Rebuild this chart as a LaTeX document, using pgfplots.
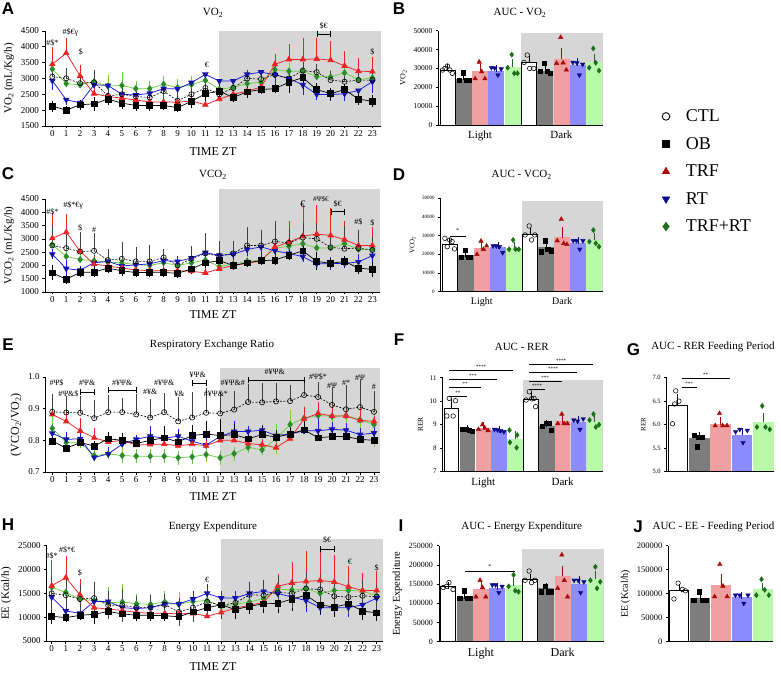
\documentclass[border=0pt]{standalone}
\usepackage{pgfplots}
\usepackage{pgfplotstable}
\pgfplotsset{compat=1.18}
\usepackage{fontspec}
\setmainfont{Liberation Serif}
\newfontfamily\lettfont{Liberation Sans}

\definecolor{bg}{RGB}{214,214,214}
\definecolor{trfL}{RGB}{235,35,35}
\definecolor{rtL}{RGB}{25,25,235}
\definecolor{rtM}{RGB}{20,20,170}
\definecolor{trtL}{RGB}{105,210,60}
\definecolor{trtM}{RGB}{40,140,40}
\definecolor{trfB}{RGB}{240,160,160}
\definecolor{rtB}{RGB}{140,140,255}
\definecolor{trtB}{RGB}{185,250,170}
\definecolor{obB}{RGB}{125,125,125}
\definecolor{trfP}{RGB}{170,10,10}
\definecolor{rtP}{RGB}{10,10,140}
\definecolor{trtP}{RGB}{30,110,30}

\pgfplotstableread{
x ctl ctle ob obe trf trfe rt rte trt trte
0 3058 200 2130 100 3450 470 2930 220 3300 150
1 3005 250 2000 60 3800 400 2330 80 2840 50
2 2850 150 2170 80 3080 270 2230 60 2800 60
3 2880 300 2200 150 2520 150 2800 120 2900 250
4 2450 250 2350 130 2430 80 2780 100 2760 280
5 2500 250 2220 120 2380 70 2500 80 2780 350
6 2430 200 2150 90 2320 60 2480 60 2680 170
7 2400 200 2150 90 2260 60 2530 80 2680 170
8 2600 150 2150 80 2260 200 2680 60 2820 200
9 2300 200 2080 80 2250 60 2670 60 2710 200
10 2500 200 2280 150 2290 60 2870 80 2810 200
11 2700 250 2520 150 2170 60 3130 60 2940 150
12 2500 200 2600 150 2350 60 2920 60 2660 100
13 2700 200 2400 80 2500 60 2920 60 2720 120
14 3000 200 2580 120 2600 60 3130 80 2840 150
15 2980 200 2650 80 2730 60 3200 60 2880 150
16 3120 250 2680 80 3450 250 3120 250 3280 150
17 3000 250 2880 250 3600 420 3000 200 3230 200
18 3250 200 3030 300 3600 600 2800 250 3230 200
19 3200 200 2650 120 3620 600 2500 100 3060 150
20 2950 200 2520 120 3580 520 2490 120 3050 150
21 2900 150 2650 100 3400 380 2520 150 3180 150
22 2950 150 2350 120 3230 340 2620 80 2960 80
23 2950 150 2280 120 3220 380 2900 300 3020 150
}\tA

\pgfplotstableread{
x ctl ctle ob obe trf trfe rt rte trt trte
0 2750 650 1720 200 3020 850 2420 100 2780 300
1 2650 600 1480 80 3250 600 1880 250 2340 250
2 2520 650 1740 100 2530 450 1820 80 2220 300
3 2550 600 1750 100 2050 200 2100 200 2180 200
4 2200 350 1900 100 1980 150 2150 100 2120 250
5 2250 550 1800 100 1900 150 1980 100 2100 400
6 2150 450 1730 80 1830 100 2020 100 2030 200
7 2150 550 1740 80 1800 100 2060 100 2000 200
8 2300 250 1740 80 1800 150 2180 100 2100 250
9 2000 200 1700 80 1800 100 2150 100 2000 250
10 2250 400 1870 100 1780 100 2280 150 2100 250
11 2450 700 2100 100 1720 150 2480 150 2200 200
12 2350 500 2180 100 1870 100 2380 150 1960 150
13 2450 400 2000 80 2000 100 2420 150 2050 200
14 2750 600 2100 80 2080 100 2600 150 2150 250
15 2750 500 2180 80 2170 100 2700 300 2200 300
16 2900 700 2200 80 2700 350 2550 150 2650 300
17 2850 450 2380 100 2870 700 2450 150 2720 300
18 3050 450 2550 150 3100 1100 2330 100 2820 400
19 3000 500 2150 250 3180 1000 2060 100 2660 300
20 2680 400 2080 100 3130 930 2070 150 2660 300
21 2630 750 2150 100 2970 600 2080 100 2820 500
22 2650 600 1900 150 2750 500 2130 200 2600 200
23 2580 400 1850 200 2750 600 2370 150 2600 200
}\tC

\pgfplotstableread{
x ctl ctle ob obe trf trfe rt rte trt trte
0 0.890 0.050 0.798 0.015 0.882 0.033 0.822 0.020 0.838 0.040
1 0.888 0.045 0.775 0.010 0.860 0.030 0.803 0.015 0.793 0.010
2 0.887 0.045 0.793 0.010 0.830 0.033 0.805 0.015 0.792 0.010
3 0.870 0.050 0.782 0.010 0.808 0.025 0.746 0.010 0.752 0.010
4 0.889 0.048 0.805 0.015 0.795 0.010 0.757 0.015 0.757 0.010
5 0.889 0.037 0.800 0.015 0.800 0.012 0.788 0.015 0.752 0.015
6 0.882 0.057 0.790 0.010 0.785 0.010 0.803 0.008 0.750 0.015
7 0.872 0.050 0.800 0.015 0.787 0.010 0.813 0.025 0.750 0.015
8 0.889 0.054 0.808 0.030 0.788 0.010 0.807 0.015 0.750 0.015
9 0.860 0.070 0.795 0.025 0.783 0.010 0.813 0.015 0.745 0.015
10 0.872 0.072 0.815 0.025 0.788 0.010 0.797 0.015 0.748 0.015
11 0.887 0.070 0.820 0.035 0.783 0.010 0.785 0.015 0.755 0.015
12 0.885 0.060 0.815 0.045 0.800 0.010 0.812 0.015 0.745 0.015
13 0.897 0.050 0.818 0.025 0.800 0.010 0.828 0.025 0.758 0.015
14 0.921 0.050 0.805 0.020 0.790 0.010 0.828 0.010 0.778 0.010
15 0.920 0.055 0.818 0.020 0.786 0.010 0.832 0.010 0.770 0.010
16 0.923 0.050 0.810 0.015 0.777 0.008 0.815 0.010 0.805 0.040
17 0.924 0.045 0.820 0.025 0.805 0.010 0.820 0.015 0.850 0.040
18 0.943 0.030 0.833 0.020 0.868 0.030 0.830 0.025 0.870 0.030
19 0.937 0.040 0.808 0.015 0.885 0.030 0.830 0.030 0.878 0.030
20 0.912 0.048 0.812 0.015 0.877 0.030 0.835 0.015 0.876 0.030
21 0.898 0.070 0.812 0.015 0.877 0.010 0.832 0.015 0.878 0.040
22 0.905 0.080 0.803 0.010 0.863 0.050 0.818 0.015 0.865 0.050
23 0.890 0.060 0.800 0.010 0.860 0.010 0.823 0.015 0.850 0.065
}\tE

\pgfplotstableread{
x ctl ctle ob obe trf trfe rt rte trt trte
0 15000 3000 10200 1200 16600 5000 14200 2500 16300 2000
1 14600 3000 9900 500 18300 4000 11300 1000 15200 2500
2 13800 2500 10400 500 14700 2800 10800 700 13800 1500
3 14000 3000 10600 1500 12000 1200 13300 1000 13500 1800
4 12500 2500 11200 1000 11700 700 13300 1000 13000 2800
5 12500 3000 10700 1000 11400 700 12000 800 13200 3200
6 12000 2000 10400 800 11000 800 11800 800 12800 1600
7 12000 2200 10400 800 10800 700 12000 800 12700 1600
8 12600 1800 10300 700 10800 700 12800 800 13200 1800
9 11100 2500 10100 700 10700 700 12800 800 12700 2000
10 12000 2500 11100 1200 10800 600 13800 1200 13300 1200
11 13200 2500 12000 1500 10200 700 15000 1500 13500 1000
12 12500 2500 12600 2000 11000 1000 14000 1000 12300 1000
13 13000 1500 11600 1500 11900 1000 14000 1000 12700 1500
14 14700 2000 12300 1200 12500 1000 15000 2000 13200 1500
15 14600 2500 12800 1500 13100 1000 15400 2000 13900 1500
16 15200 3000 12900 1500 16500 2000 15000 2000 15900 2500
17 15000 2500 13800 2000 17200 4000 14200 1500 15700 2500
18 16000 3000 14600 2000 17500 6000 13500 2000 16000 3500
19 15800 2500 12600 1500 17700 6000 12000 1000 15000 2000
20 14400 2500 12100 1500 17400 5200 12000 1500 15600 2000
21 14200 3000 12800 1500 16400 3800 12000 1500 15600 3000
22 14500 3000 11300 1500 15600 3200 12600 1500 15500 2500
23 14300 2000 10900 1200 15600 3700 14000 2500 14500 2000
}\tH

\pgfplotsset{
 base/.style={scale only axis, anchor=south west, axis x line*=bottom, axis y line*=left,
   tick align=outside, major tick length=2.5pt, clip=false, axis on top, scaled y ticks=false,
   /pgf/number format/assume math mode=true, /pgf/number format/1000 sep={},
   /pgf/number format/fixed,
   axis line style={line width=0.7pt}, tick style={black, line width=0.7pt}},
 lineax/.style={base, xtick={0,...,23},
   ticklabel style={font=\fontsize{9}{10}\selectfont},
   xticklabel style={inner sep=1.5pt},
   ylabel style={font=\fontsize{11}{12}\selectfont}},
 barax/.style={base, xmin=-0.56, xmax=9.53, xtick={2,7}, xticklabels={Light,Dark},
   xtick style={draw=none}},
 smallax/.style={base, xmin=-0.52, xmax=4.5, xtick=\empty},
 sCTL/.style={black, line width=0.6pt, dash pattern=on 2pt off 1.5pt, mark=o, mark size=2.6pt,
   mark options={solid, black, fill=white, line width=0.6pt},
   error bars/.cd, y explicit, y dir=#1, error bar style={solid, black!75, line width=0.5pt},
   error mark options={black!75, mark size=2.3pt, line width=0.5pt}},
 sOB/.style={black, line width=0.7pt, mark=square*, mark size=2.9pt, mark options={black},
   error bars/.cd, y explicit, y dir=#1, error bar style={black, line width=0.5pt},
   error mark options={black, mark size=2.3pt, line width=0.5pt}},
 sTRF/.style={trfL, line width=0.75pt, mark=triangle*, mark size=3.1pt, mark options={trfL},
   error bars/.cd, y explicit, y dir=#1, error bar style={trfL, line width=0.5pt},
   error mark options={trfL, mark size=2.3pt, line width=0.5pt}},
 sRT/.style={rtL, line width=0.75pt, mark=triangle*, mark size=3.1pt, mark options={rtM, rotate=180},
   error bars/.cd, y explicit, y dir=#1, error bar style={rtL, line width=0.5pt},
   error mark options={rtL, mark size=2.3pt, line width=0.5pt}},
 sTRT/.style={trtL, line width=0.75pt, mark=diamond*, mark size=3pt, mark options={trtM},
   error bars/.cd, y explicit, y dir=#1, error bar style={trtL, line width=0.5pt},
   error mark options={trtL, mark size=2.3pt, line width=0.5pt}},
 bar/.style n args={3}{ybar, bar width=0.92, bar shift=0pt, fill=#1, draw=#2, line width=0.8pt,
   error bars/.cd, y dir=plus, y explicit, error bar style={#3, line width=0.7pt},
   error mark options={#3, mark size=3.5pt, line width=0.7pt}},
 pC/.style={only marks, mark=o, mark size=2.3pt, mark options={black, fill=white, line width=0.55pt}},
 pO/.style={only marks, mark=square*, mark size=2.1pt, black},
 pT/.style={only marks, mark=triangle*, mark size=2.6pt, trfP},
 pR/.style={only marks, mark=triangle*, mark size=2.6pt, mark options={rotate=180}, rtP},
 pG/.style={only marks, mark=diamond*, mark size=2.6pt, trtP},
}

\newcommand{\ann}{\fontsize{8}{9}\selectfont}

\begin{document}
\begin{tikzpicture}
\path[use as bounding box] (0,0) rectangle (781pt,673pt);

% ---------------- A ----------------
\begin{axis}[lineax, at={(45pt,547pt)}, width=336pt, height=95pt, xmin=-0.525, xmax=23.62,
  ymin=1500, ymax=4500, ytick={1500,2000,...,4500}, ylabel={VO\textsubscript{2} (mL/Kg/h)}]
\fill[bg] (axis cs:12,1500) rectangle (axis cs:23.62,4500);
\addplot[sTRT=plus] table[x=x,y=trt,y error=trte]{\tA};
\addplot[sRT=minus] table[x=x,y=rt,y error=rte]{\tA};
\addplot[sTRF=plus] table[x=x,y=trf,y error=trfe]{\tA};
\addplot[sOB=both] table[x=x,y=ob,y error=obe]{\tA};
\addplot[sCTL=plus] table[x=x,y=ctl,y error=ctle]{\tA};
\node[font=\ann] at (axis cs:0,4130) {\#\$*};
\node[font=\ann] at (axis cs:1.3,4460) {\#\$€γ};
\node[font=\ann] at (axis cs:2.05,3850) {\$};
\node[font=\ann] at (axis cs:11.1,3430) {€};
\node[font=\ann] at (axis cs:19.5,4660) {\$€};
\draw[|-|, line width=0.5pt] (axis cs:19,4395) -- (axis cs:20,4395);
\node[font=\ann] at (axis cs:23,3850) {\$};
\end{axis}

% ---------------- C ----------------
\begin{axis}[lineax, at={(45pt,381pt)}, width=335pt, height=93pt, xmin=-0.525, xmax=23.55,
  ymin=1000, ymax=4500, ytick={1000,1500,...,4500}, ylabel={VCO\textsubscript{2} (mL/Kg/h)}]
\fill[bg] (axis cs:12,1000) rectangle (axis cs:23.55,4875);
\addplot[sTRT=plus] table[x=x,y=trt,y error=trte]{\tC};
\addplot[sRT=both] table[x=x,y=rt,y error=rte]{\tC};
\addplot[sTRF=plus] table[x=x,y=trf,y error=trfe]{\tC};
\addplot[sOB=both] table[x=x,y=ob,y error=obe]{\tC};
\addplot[sCTL=plus] table[x=x,y=ctl,y error=ctle]{\tC};
\node[font=\ann] at (axis cs:0,4025) {\#\$*};
\node[font=\ann] at (axis cs:1.5,4275) {\#\$*€γ};
\node[font=\ann] at (axis cs:2,3400) {\$};
\node[font=\ann] at (axis cs:3,3340) {\#};
\node[font=\fontsize{10}{11}\selectfont] at (axis cs:18,4300) {€};
\node[font=\fontsize{7}{8}\selectfont] at (axis cs:19.3,4500) {\#Ψ\$€};
\node[font=\ann] at (axis cs:20.5,4310) {\$€};
\draw[|-|, line width=0.5pt] (axis cs:20,4025) -- (axis cs:21,4025);
\node[font=\ann] at (axis cs:22,3625) {\#\$};
\node[font=\ann] at (axis cs:23,3590) {\$};
\end{axis}

% ---------------- E ----------------
\begin{axis}[lineax, at={(45.7pt,201pt)}, width=334.3pt, height=95pt, xmin=-0.47, xmax=23.43,
  ymin=0.7, ymax=1.0, ytick={0.7,0.8,0.9,1.0},
  yticklabel style={/pgf/number format/.cd, fixed, fixed zerofill, precision=1},
  ylabel={(VCO\textsubscript{2}/VO\textsubscript{2})}, ylabel style={font=\fontsize{12}{13}\selectfont}]
\fill[bg] (axis cs:12,0.7) rectangle (axis cs:23.43,1.03);
\addplot[sTRT=both] table[x=x,y=trt,y error=trte]{\tE};
\addplot[sRT=plus] table[x=x,y=rt,y error=rte]{\tE};
\addplot[sTRF=plus] table[x=x,y=trf,y error=trfe]{\tE};
\addplot[sOB=plus] table[x=x,y=ob,y error=obe]{\tE};
\addplot[sCTL=plus] table[x=x,y=ctl,y error=ctle]{\tE};
\node[font=\ann] at (axis cs:0.3,0.982) {\#Ψ\$};
\node[font=\ann] at (axis cs:1.15,0.948) {\#Ψ\&\$};
\node[font=\ann] at (axis cs:2.5,0.98) {\#Ψ\&};
\draw[|-|, line width=0.5pt] (axis cs:2,0.953) -- (axis cs:3,0.953);
\node[font=\ann] at (axis cs:5,0.983) {\#¥Ψ\&};
\draw[|-|, line width=0.5pt] (axis cs:4,0.958) -- (axis cs:6,0.958);
\node[font=\ann] at (axis cs:7,0.954) {\#¥\&};
\node[font=\ann] at (axis cs:8,0.98) {\#¥Ψ\&};
\node[font=\ann] at (axis cs:9.1,0.948) {¥\&};
\node[font=\ann] at (axis cs:10.4,1.006) {¥Ψ\&};
\draw[|-|, line width=0.5pt] (axis cs:10,0.98) -- (axis cs:11,0.98);
\node[font=\ann] at (axis cs:11.7,0.948) {\#¥Ψ\&*};
\node[font=\ann] at (axis cs:12.9,0.982) {\#¥Ψ\&\#};
\node[font=\ann] at (axis cs:15.9,1.015) {\#¥Ψ\&};
\draw[|-|, line width=0.5pt] (axis cs:14,0.99) -- (axis cs:18,0.99);
\node[font=\ann] at (axis cs:19,1.001) {\#Ψ\$*};
\node[font=\ann] at (axis cs:20,0.973) {\#Ψ};
\node[font=\ann] at (axis cs:21,0.98) {\#*};
\node[font=\ann] at (axis cs:22,0.996) {\#Ψ};
\node[font=\ann] at (axis cs:23,0.97) {\#};
\end{axis}

% ---------------- H ----------------
\begin{axis}[lineax, at={(46.7pt,32pt)}, width=336.6pt, height=95.3pt, xmin=-0.354, xmax=23.47,
  ymin=5000, ymax=25000, ytick={5000,10000,...,25000}, ylabel={EE (Kcal/h)}]
\fill[bg] (axis cs:12,5000) rectangle (axis cs:23.47,26400);
\addplot[sTRT=both] table[x=x,y=trt,y error=trte]{\tH};
\addplot[sRT=both] table[x=x,y=rt,y error=rte]{\tH};
\addplot[sTRF=plus] table[x=x,y=trf,y error=trfe]{\tH};
\addplot[sOB=both] table[x=x,y=ob,y error=obe]{\tH};
\addplot[sCTL=both] table[x=x,y=ctl,y error=ctle]{\tH};
\node[font=\ann] at (axis cs:0,22800) {\#\$*};
\node[font=\ann] at (axis cs:1.1,24200) {\#\$*€};
\node[font=\ann] at (axis cs:2,19200) {\$};
\node[font=\ann] at (axis cs:11,17800) {€};
\node[font=\ann] at (axis cs:19.5,26300) {\$€};
\draw[|-|, line width=0.5pt] (axis cs:19,24230) -- (axis cs:20,24230);
\node[font=\ann] at (axis cs:21.1,21500) {€};
\node[font=\ann] at (axis cs:23,20400) {\$};
\end{axis}

% ---------------- B ----------------
\begin{axis}[barax, at={(438.3pt,548pt)}, width=164.4pt, height=94.3pt, ymin=0, ymax=50000,
  ytick={0,10000,...,50000}, ylabel={VO\textsubscript{2}},
  yticklabel style={font=\fontsize{7.5}{8}\selectfont}, xticklabel style={font=\fontsize{11}{12}\selectfont},
  ylabel style={font=\fontsize{8}{9}\selectfont}]
\fill[bg] (axis cs:4.5,0) rectangle (axis cs:9.53,49000);
\addplot[bar={white}{black}{black}] coordinates {(0,29000) +- (0,1500) (5,33000) +- (0,1500)};
\addplot[bar={obB}{obB}{black}] coordinates {(1,24000) +- (0,1500) (6,28500) +- (0,1500)};
\addplot[bar={trfB}{trfB}{trfP}] coordinates {(2,28500) +- (0,2000) (7,35000) +- (0,4000)};
\addplot[bar={rtB}{rtB}{rtP}] coordinates {(3,28500) +- (0,1500) (8,31500) +- (0,2000)};
\addplot[bar={trtB}{trtB}{trtP}] coordinates {(4,30500) +- (0,2500) (9,33000) +- (0,3000)};
\addplot[pC] coordinates {(-0.3,29150) (-0.15,30000) (0,31270) (0.15,29150) (0.3,27400) (4.7,33200) (4.9,37100) (5.05,30000) (5.3,30000)};
\addplot[pO] coordinates {(0.7,23850) (0.95,27740) (1.15,23850) (1.35,23850) (5.7,28600) (5.95,32700) (6.1,28600) (6.3,27400)};
\addplot[pT] coordinates {(1.7,24560) (1.95,33400) (2.1,28300) (2.3,24560) (6.7,32700) (6.95,46500) (7.1,33000) (7.3,29200)};
\addplot[pR] coordinates {(2.7,30400) (2.9,30200) (3.1,26500) (3.3,29700) (7.7,33200) (7.95,33000) (8.1,26500) (8.3,32200)};
\addplot[pG] coordinates {(3.7,30400) (3.95,37300) (4.1,27400) (4.3,27400) (8.7,30400) (8.95,40600) (9.1,33000) (9.3,28800)};
\end{axis}

% ---------------- D ----------------
\begin{axis}[barax, at={(440.7pt,381.3pt)}, width=162pt, height=93.4pt, ymin=0, ymax=50000,
  ytick={0,10000,...,50000}, ylabel={VCO\textsubscript{2}},
  yticklabel style={font=\fontsize{5}{6}\selectfont}, xticklabel style={font=\fontsize{10}{11}\selectfont},
  ylabel style={font=\fontsize{7}{8}\selectfont}]
\fill[bg] (axis cs:4.5,0) rectangle (axis cs:9.53,48700);
\addplot[bar={white}{black}{black}] coordinates {(0,25500) +- (0,1500) (5,30500) +- (0,1500)};
\addplot[bar={obB}{obB}{black}] coordinates {(1,19500) +- (0,1000) (6,23500) +- (0,1500)};
\addplot[bar={trfB}{trfB}{trfP}] coordinates {(2,23000) +- (0,1500) (7,29000) +- (0,3500)};
\addplot[bar={rtB}{rtB}{rtP}] coordinates {(3,23500) +- (0,1000) (8,26000) +- (0,1500)};
\addplot[bar={trtB}{trtB}{trtP}] coordinates {(4,23000) +- (0,1500) (9,27500) +- (0,2000)};
\addplot[pC] coordinates {(-0.3,28600) (-0.15,24100) (0,27700) (0.15,26800) (0.3,22900) (4.7,30400) (4.95,35200) (5.1,27700) (5.3,30400)};
\addplot[pO] coordinates {(0.7,18400) (0.95,22300) (1.15,18400) (1.3,18400) (5.7,21400) (5.95,27300) (6.1,22700) (6.3,22000)};
\addplot[pT] coordinates {(1.7,20000) (1.95,27100) (2.1,22700) (2.3,24500) (6.7,27300) (6.95,38800) (7.1,25900) (7.3,25400)};
\addplot[pR] coordinates {(2.7,24500) (2.9,24500) (3.1,24100) (3.3,20900) (7.7,27300) (7.9,27300) (8.1,22700) (8.3,27300)};
\addplot[pG] coordinates {(3.7,22700) (3.95,27700) (4.1,22700) (4.3,22700) (8.7,26800) (8.95,33000) (9.1,25900) (9.3,24100)};
\draw[line width=0.5pt] (axis cs:0,29800) -- (axis cs:1,29800);
\node[font=\fontsize{6}{7}\selectfont] at (axis cs:0.5,33000) {*};
\end{axis}

% ---------------- F ----------------
\begin{axis}[barax, at={(442.7pt,201.3pt)}, width=160pt, height=94pt, ymin=7, ymax=11,
  ytick={7,8,9,10,11}, ylabel={RER},
  yticklabel style={font=\fontsize{7}{8}\selectfont}, xticklabel style={font=\fontsize{11}{12}\selectfont},
  ylabel style={font=\fontsize{7.5}{8}\selectfont}]
\fill[bg] (axis cs:4.5,7) rectangle (axis cs:9.53,10.9);
\addplot[bar={white}{black}{black}] coordinates {(0,9.7) +- (0,0.25) (5,10.08) +- (0,0.15)};
\addplot[bar={obB}{obB}{black}] coordinates {(1,8.8) +- (0,0.03) (6,8.94) +- (0,0.1)};
\addplot[bar={trfB}{trfB}{trfP}] coordinates {(2,8.85) +- (0,0.1) (7,9.12) +- (0,0.12)};
\addplot[bar={rtB}{rtB}{rtP}] coordinates {(3,8.75) +- (0,0.05) (8,9.08) +- (0,0.15)};
\addplot[bar={trtB}{trtB}{trtP}] coordinates {(4,8.39) +- (0,0.18) (9,9.12) +- (0,0.15)};
\addplot[pC] coordinates {(-0.3,9.37) (-0.15,10.12) (0.1,9.37) (0.25,10.02) (4.7,10.05) (4.9,10.4) (5.05,10.1) (5.2,10.12) (5.3,9.77)};
\addplot[pO] coordinates {(0.7,8.82) (0.9,8.8) (1.1,8.76) (1.3,8.72) (5.7,8.92) (5.95,9.05) (6.15,9.05) (6.3,8.75)};
\addplot[pT] coordinates {(1.7,8.8) (1.95,9.0) (2.1,8.85) (2.3,8.75) (6.7,9.05) (6.95,9.45) (7.1,9.05) (7.3,9.05)};
\addplot[pR] coordinates {(2.7,8.8) (2.9,8.78) (3.1,8.75) (3.3,8.7) (7.7,9.2) (7.95,9.15) (8.1,8.8) (8.3,9.25)};
\addplot[pG] coordinates {(3.65,8.77) (4.14,8.56) (3.68,8.25) (4.1,8.02) (8.7,9.2) (8.95,9.45) (9.1,8.9) (9.3,9.0)};
\draw[line width=0.5pt] (axis cs:-0.14,10.22) -- (axis cs:0.95,10.22);
\draw[line width=0.5pt] (axis cs:-0.14,10.59) -- (axis cs:1.85,10.59);
\draw[line width=0.5pt] (axis cs:-0.14,10.93) -- (axis cs:2.84,10.93);
\draw[line width=0.5pt] (axis cs:-0.14,11.3) -- (axis cs:3.89,11.3);
\node[font=\fontsize{5}{6}\selectfont] at (axis cs:0.4,10.36) {**};
\node[font=\fontsize{5}{6}\selectfont] at (axis cs:0.85,10.73) {**};
\node[font=\fontsize{5}{6}\selectfont] at (axis cs:1.35,11.07) {***};
\node[font=\fontsize{5}{6}\selectfont] at (axis cs:1.87,11.44) {****};
\draw[line width=0.5pt] (axis cs:4.9,10.5) -- (axis cs:5.89,10.5);
\draw[line width=0.5pt] (axis cs:4.9,10.87) -- (axis cs:6.94,10.87);
\draw[line width=0.5pt] (axis cs:4.9,11.23) -- (axis cs:7.89,11.23);
\draw[line width=0.5pt] (axis cs:4.9,11.58) -- (axis cs:8.94,11.58);
\node[font=\fontsize{5}{6}\selectfont] at (axis cs:5.4,10.64) {****};
\node[font=\fontsize{5}{6}\selectfont] at (axis cs:5.9,11.01) {***};
\node[font=\fontsize{5}{6}\selectfont] at (axis cs:6.4,11.37) {****};
\node[font=\fontsize{5}{6}\selectfont] at (axis cs:6.9,11.72) {****};
\end{axis}

% ---------------- G ----------------
\begin{axis}[smallax, at={(666.7pt,201.3pt)}, width=107.3pt, height=94pt, ymin=5, ymax=7,
  ytick={5,5.5,6,6.5,7}, ylabel={RER},
  yticklabel style={font=\fontsize{6.5}{7}\selectfont, /pgf/number format/.cd, fixed, fixed zerofill, precision=1},
  ylabel style={font=\fontsize{7}{8}\selectfont}]
\addplot[bar={white}{black}{black}] coordinates {(0,6.42) +- (0,0.15)};
\addplot[bar={obB}{obB}{black}] coordinates {(1,5.7) +- (0,0.08)};
\addplot[bar={trfB}{trfB}{trfP}] coordinates {(2,6.0) +- (0,0.08)};
\addplot[bar={rtB}{rtB}{rtP}] coordinates {(3,5.78) +- (0,0.08)};
\addplot[bar={trtB}{trtB}{trtP}] coordinates {(4,6.05) +- (0,0.12)};
\addplot[pC] coordinates {(-0.25,6.02) (-0.15,6.44) (-0.1,6.72) (0.05,6.5)};
\addplot[pO] coordinates {(0.75,5.78) (0.95,5.74) (1.15,5.73) (0.9,5.53)};
\addplot[pT] coordinates {(1.75,5.98) (1.95,6.24) (2.1,5.98) (2.3,5.98)};
\addplot[pR] coordinates {(2.7,5.85) (2.9,5.9) (3.05,5.62) (3.25,5.88)};
\addplot[pG] coordinates {(3.7,5.95) (3.95,6.4) (4.1,5.95) (4.3,5.9)};
\draw[line width=0.5pt] (axis cs:0.18,6.79) -- (axis cs:0.88,6.79);
\draw[line width=0.5pt] (axis cs:0.18,6.99) -- (axis cs:2.44,6.99);
\node[font=\fontsize{5}{6}\selectfont] at (axis cs:0.53,6.86) {***};
\node[font=\fontsize{5}{6}\selectfont] at (axis cs:1.3,7.06) {**};
\end{axis}

% ---------------- I ----------------
\begin{axis}[barax, at={(439pt,31.3pt)}, width=165pt, height=96pt, ymin=0, ymax=250000,
  ytick={0,50000,...,250000}, ylabel={Energy Expenditure},
  yticklabel style={font=\fontsize{8}{9}\selectfont}, xticklabel style={font=\fontsize{12}{13}\selectfont},
  ylabel style={font=\fontsize{10.5}{11}\selectfont}]
\fill[bg] (axis cs:4.5,0) rectangle (axis cs:9.53,241000);
\addplot[bar={white}{black}{black}] coordinates {(0,143000) +- (0,4000) (5,162000) +- (0,4000)};
\addplot[bar={obB}{obB}{black}] coordinates {(1,115000) +- (0,6000) (6,138000) +- (0,7000)};
\addplot[bar={trfB}{trfB}{trfP}] coordinates {(2,136000) +- (0,10000) (7,170000) +- (0,19000)};
\addplot[bar={rtB}{rtB}{rtP}] coordinates {(3,138000) +- (0,5000) (8,150000) +- (0,13000)};
\addplot[bar={trtB}{trtB}{trtP}] coordinates {(4,146000) +- (0,11000) (9,162000) +- (0,13000)};
\addplot[pC] coordinates {(-0.3,141000) (-0.1,144000) (0.05,154000) (0.3,136000) (4.7,160000) (4.95,184000) (5.1,154000) (5.3,160000)};
\addplot[pO] coordinates {(0.7,113000) (1,133000) (1.15,113000) (1.35,113000) (5.7,130000) (5.95,145000) (6.15,130000) (6.3,130000)};
\addplot[pT] coordinates {(1.7,117000) (1.95,160000) (2.1,141000) (2.3,117000) (6.7,139000) (6.95,226000) (7.1,160000) (7.3,117000)};
\addplot[pR] coordinates {(2.7,148000) (2.9,148000) (3.1,128000) (3.3,144000) (7.7,160000) (7.95,160000) (8.1,128000) (8.3,156000)};
\addplot[pG] coordinates {(3.7,144000) (4,174000) (4.1,133000) (4.3,130000) (8.7,160000) (9,195000) (9.1,139000) (9.3,156000)};
\draw[line width=0.5pt] (axis cs:1.03,184000) -- (axis cs:4.09,184000);
\node[font=\fontsize{6}{7}\selectfont] at (axis cs:2.55,195000) {*};
\end{axis}

% ---------------- J ----------------
\begin{axis}[smallax, at={(668.3pt,31.3pt)}, width=104.7pt, height=96pt, ymin=0, ymax=200000,
  ytick={0,50000,...,200000}, ylabel={EE (Kcal/h)},
  yticklabel style={font=\fontsize{8.5}{9}\selectfont},
  ylabel style={font=\fontsize{10}{11}\selectfont}]
\addplot[bar={white}{black}{black}] coordinates {(0,106000) +- (0,6000)};
\addplot[bar={obB}{obB}{black}] coordinates {(1,90000) +- (0,5000)};
\addplot[bar={trfB}{trfB}{trfP}] coordinates {(2,118000) +- (0,16000)};
\addplot[bar={rtB}{rtB}{rtP}] coordinates {(3,92000) +- (0,5000)};
\addplot[bar={trtB}{trtB}{trtP}] coordinates {(4,108000) +- (0,8000)};
\addplot[pC] coordinates {(-0.25,89000) (-0.05,122000) (0.15,109000) (0.3,106000)};
\addplot[pO] coordinates {(0.7,87000) (0.95,104000) (1.1,87000) (1.3,87000)};
\addplot[pT] coordinates {(1.7,94000) (1.95,161000) (2.1,116000) (2.3,94000)};
\addplot[pR] coordinates {(2.7,97000) (2.9,97000) (3.1,80000) (3.3,97000)};
\addplot[pG] coordinates {(3.7,97000) (3.95,130000) (4.1,108000) (4.3,97000)};
\end{axis}

% ---------------- legend ----------------
\begin{axis}[at={(662pt,555.5pt)}, anchor=south west, scale only axis, width=10pt, height=10pt,
  hide axis, xmin=0, xmax=1, ymin=0, ymax=1,
  legend style={at={(0,1)}, anchor=north west, draw=none, fill=none, inner sep=0pt,
    font=\fontsize{18}{21}\selectfont, row sep=10.2pt,
    /tikz/every odd column/.append style={column sep=14pt}},
  legend cell align=left]
\addlegendimage{only marks, mark=o, mark size=3.8pt, mark options={black, line width=0.9pt}}
\addlegendimage{only marks, mark=square*, mark size=3.5pt, black}
\addlegendimage{only marks, mark=triangle*, mark size=4.4pt, trfP}
\addlegendimage{only marks, mark=triangle*, mark size=4.4pt, mark options={rotate=180}, rtP}
\addlegendimage{only marks, mark=diamond*, mark size=4.4pt, trtP}
\legend{CTL,OB,TRF,RT,TRF+RT}
\end{axis}

% ---------------- titles and labels ----------------
\begin{scope}[every node/.style={font=\fontsize{11}{12}\selectfont}]
\node at (213pt,660pt) {VO\textsubscript{2}};
\node at (520pt,660.3pt) {AUC - VO\textsubscript{2}};
\node at (213pt,498pt) {VCO\textsubscript{2}};
\node at (521.7pt,498pt) {AUC - VCO\textsubscript{2}};
\node at (212pt,328pt) {Respiratory Exchange Ratio};
\node at (521.7pt,326.3pt) {AUC - RER};
\node at (713pt,326.3pt) {AUC - RER Feeding Period};
\node at (213pt,146pt) {Energy Expenditure};
\node at (521.7pt,146.3pt) {AUC - Energy Expenditure};
\node at (713.5pt,146.3pt) {AUC - EE - Feeding Period};
\end{scope}
\begin{scope}[every node/.style={font=\fontsize{12}{13}\selectfont}]
\node at (213pt,521pt) {TIME ZT};
\node at (213pt,358pt) {TIME ZT};
\node at (213pt,176pt) {TIME ZT};
\node at (213pt,6pt) {TIME ZT};
\end{scope}
\begin{scope}[every node/.style={font=\lettfont\bfseries\fontsize{17}{18}\selectfont}]
\node at (8pt,664.5pt) {A};
\node at (399pt,664.5pt) {B};
\node at (8pt,499pt) {C};
\node at (399pt,498pt) {D};
\node at (8pt,328pt) {E};
\node at (399pt,333pt) {F};
\node at (633.5pt,323pt) {G};
\node at (8pt,148.5pt) {H};
\node at (401pt,147pt) {I};
\node at (638pt,146pt) {J};
\end{scope}
\end{tikzpicture}
\end{document}
